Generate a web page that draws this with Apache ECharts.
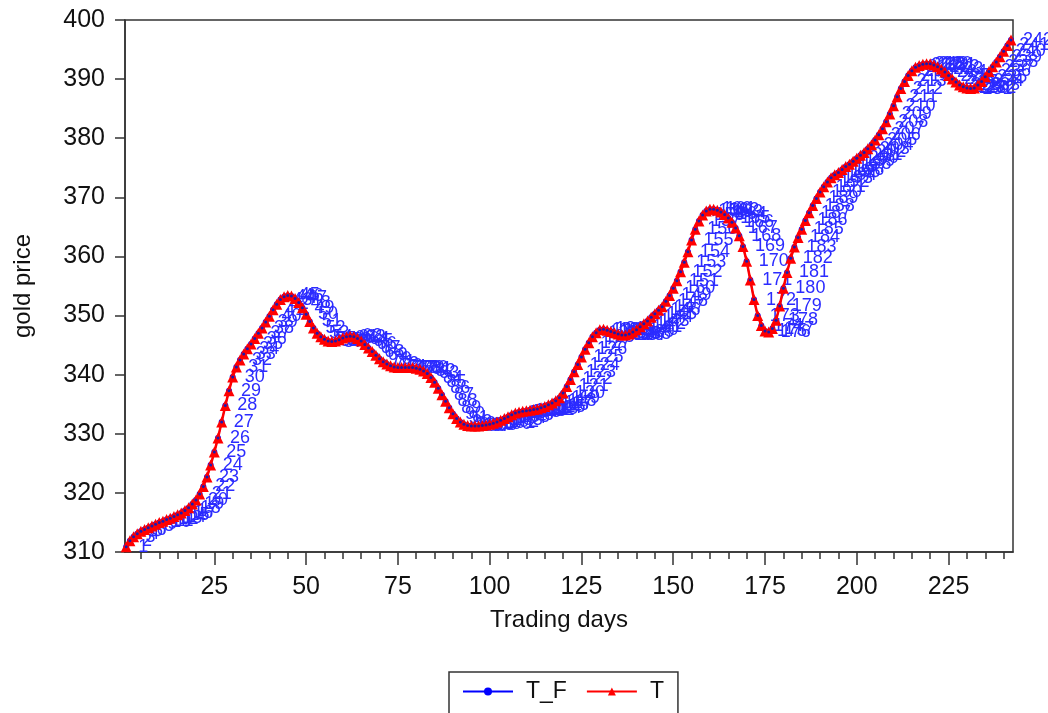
<!DOCTYPE html>
<html><head><meta charset="utf-8">
<script src="https://cdn.jsdelivr.net/npm/echarts@6/dist/echarts.min.js"></script>
<style>html,body{margin:0;padding:0;background:#fff}#c{width:1048px;height:713px}</style>
</head><body><div id="c"></div>
<script>
const seriesT = [310.9,311.9,312.6,313.1,313.5,313.8,314.1,314.4,314.7,315.0,
315.2,315.5,315.7,316.0,316.3,316.6,317.0,317.5,318.1,318.8,
319.8,321.1,322.7,324.7,326.9,329.3,332.0,334.8,337.3,339.6,
341.3,342.5,343.5,344.4,345.2,346.1,347.0,347.9,348.9,349.9,
351.0,351.9,352.7,353.2,353.4,353.3,352.9,352.2,351.3,350.2,
349.0,347.9,347.0,346.4,346.0,345.7,345.6,345.7,345.9,346.2,
346.4,346.5,346.4,346.1,345.7,345.1,344.5,343.9,343.3,342.7,
342.2,341.8,341.5,341.3,341.2,341.2,341.2,341.2,341.2,341.1,
340.9,340.6,340.2,339.5,338.7,337.7,336.6,335.5,334.4,333.4,
332.6,332.0,331.6,331.4,331.3,331.3,331.3,331.4,331.5,331.6,
331.8,332.0,332.3,332.6,332.9,333.2,333.5,333.7,333.8,333.9,
334.0,334.1,334.2,334.4,334.6,334.9,335.2,335.6,336.1,336.9,
338.0,339.2,340.5,341.7,343.0,344.3,345.4,346.4,347.1,347.6,
347.7,347.5,347.3,347.1,346.9,346.7,346.7,346.9,347.2,347.6,
348.1,348.6,349.1,349.7,350.3,350.9,351.5,352.4,353.4,354.6,
355.9,357.4,359.0,360.8,362.8,364.6,366.0,367.0,367.7,368.0,
368.0,367.8,367.5,367.1,366.5,365.8,364.8,363.5,361.7,359.2,
356.0,352.7,350.0,348.3,347.4,347.2,347.8,349.2,351.6,354.6,
357.3,359.7,361.6,363.2,364.6,366.1,367.4,368.6,369.8,370.9,
371.8,372.6,373.3,373.8,374.2,374.7,375.2,375.6,376.1,376.6,
377.1,377.6,378.2,378.9,379.7,380.6,381.6,382.8,384.1,385.5,
387.0,388.4,389.6,390.6,391.4,392.0,392.3,392.5,392.6,392.6,
392.4,392.1,391.7,391.2,390.6,390.0,389.5,389.0,388.7,388.5,
388.4,388.5,389.0,389.6,390.4,391.3,392.1,392.9,393.8,394.7,
395.7,396.6];

const seriesTF = [310.9,311.9,312.6,313.1,313.5,313.8,314.1,314.4,314.7,315.0,
315.2,315.5,315.7,316.0,316.3,316.6,317.0,317.5,318.1,318.8,
319.8,321.1,322.7,324.7,326.9,329.3,332.0,334.8,337.3,339.6,
341.3,342.5,343.5,344.4,345.2,346.1,347.0,347.9,348.9,349.9,
351.0,351.9,352.7,353.2,353.4,353.3,352.9,352.2,351.3,350.2,
349.0,347.9,347.0,346.4,346.0,345.7,345.6,345.7,345.9,346.2,
346.4,346.5,346.4,346.1,345.7,345.1,344.5,343.9,343.3,342.7,
342.2,341.8,341.5,341.3,341.2,341.2,341.2,341.2,341.2,341.1,
340.9,340.6,340.2,339.5,338.7,337.7,336.6,335.5,334.4,333.4,
332.6,332.0,331.6,331.4,331.3,331.3,331.3,331.4,331.5,331.6,
331.8,332.0,332.3,332.6,332.9,333.2,333.5,333.7,333.8,333.9,
334.0,334.1,334.2,334.4,334.6,334.9,335.2,335.6,336.1,336.9,
338.0,339.2,340.5,341.7,343.0,344.3,345.4,346.4,347.1,347.6,
347.7,347.5,347.3,347.1,346.9,346.7,346.7,346.9,347.2,347.6,
348.1,348.6,349.1,349.7,350.3,350.9,351.5,352.4,353.4,354.6,
355.9,357.4,359.0,360.8,362.8,364.6,366.0,367.0,367.7,368.0,
368.0,367.8,367.5,367.1,366.5,365.8,364.8,363.5,361.7,359.2,
356.0,352.7,350.0,348.3,347.4,347.2,347.8,349.2,351.6,354.6,
357.3,359.7,361.6,363.2,364.6,366.1,367.4,368.6,369.8,370.9,
371.8,372.6,373.3,373.8,374.2,374.7,375.2,375.6,376.1,376.6,
377.1,377.6,378.2,378.9,379.7,380.6,381.6,382.8,384.1,385.5,
387.0,388.4,389.6,390.6,391.4,392.0,392.3,392.5,392.6,392.6,
392.4,392.1,391.7,391.2,390.6,390.0,389.5,389.0,388.7,388.5,
388.4,388.5,389.0,389.6,390.4,391.3,392.1,392.9,393.8,394.7,
395.7,396.6];

const xMajorTicks = [25,50,75,100,125,150,175,200,225];
const xMinorTicks = [5,10,15,20,25,30,35,40,45,50,55,60,65,70,75,80,85,90,95,100,105,110,115,120,125,130,135,140,145,150,155,160,165,170,175,180,185,190,195,200,205,210,215,220,225,230,235,240];

const days = seriesT.map((v, i) => i + 1);
const dataT = days.map((d, i) => [d, seriesT[i]]);
const dataTF = days.map((d, i) => [d, seriesTF[i]]);

const FONT = '"Liberation Sans", Arial, sans-serif';
const AX = '#333';
const xRange = {min: 0.67, max: 242.55};

const chart = echarts.init(document.getElementById('c'), null, {renderer: 'canvas'});
chart.setOption({
  animation: false,
  backgroundColor: '#fff',
  textStyle: {fontFamily: FONT},
  grid: {left: 125, right: 35, top: 20, bottom: 161, show: true, borderColor: AX, borderWidth: 1.5, containLabel: false, outerBoundsMode: 'none'},
  legend: {
    data: ['T_F', 'T'],
    left: 449, top: 672,
    padding: [8, 14, 22, 13],
    itemWidth: 50, itemHeight: 10, itemGap: 19,
    borderColor: AX, borderWidth: 1.5, borderRadius: 0,
    textStyle: {fontSize: 23, color: '#111', fontFamily: FONT, padding: [0, 0, 0, 8]}
  },
  xAxis: [{
    type: 'value', min: xRange.min, max: xRange.max,
    name: 'Trading days', nameLocation: 'middle', nameGap: 56,
    nameTextStyle: {fontSize: 24, color: '#111', fontFamily: FONT, padding: [0, 20, 0, 0]},
    axisLine: {show: true, lineStyle: {color: AX, width: 1.5}},
    axisTick: {show: true, length: 13, customValues: xMajorTicks, lineStyle: {color: AX, width: 1.5}},
    axisLabel: {show: true, customValues: xMajorTicks, margin: 23, fontSize: 25, color: '#111', fontFamily: FONT},
    splitLine: {show: false}
  }, {
    type: 'value', min: xRange.min, max: xRange.max, position: 'bottom', gridIndex: 0,
    axisLine: {show: false},
    axisTick: {show: true, length: 7, customValues: xMinorTicks, lineStyle: {color: AX, width: 1.5}},
    axisLabel: {show: false},
    splitLine: {show: false}
  }],
  yAxis: {
    type: 'value', min: 310, max: 400, interval: 10,
    name: 'gold price', nameLocation: 'middle', nameGap: 90,
    nameTextStyle: {fontSize: 24, color: '#111', fontFamily: FONT},
    axisLine: {show: true, lineStyle: {color: AX, width: 1.5}},
    axisTick: {show: true, length: 10, lineStyle: {color: AX, width: 1.5}},
    axisLabel: {margin: 20, fontSize: 25, color: '#111', fontFamily: FONT},
    splitLine: {show: false}
  },
  series: [{
    name: 'T_F', type: 'line', xAxisIndex: 0, z: 2,
    data: dataTF,
    symbol: 'circle', symbolSize: 6,
    itemStyle: {color: '#0000ff'},
    lineStyle: {color: '#0000ff', width: 1.5},
    label: {
      show: true, position: 'right', distance: 9, offset: [0, -3],
      formatter: p => String(p.data[0]),
      fontSize: 18, color: '#2b2bff', fontFamily: FONT
    },
    labelLayout: {hideOverlap: false},
    emphasis: {disabled: true}
  }, {
    name: 'T', type: 'line', xAxisIndex: 0, z: 3,
    data: dataT,
    symbol: 'triangle', symbolSize: 11,
    itemStyle: {color: '#ff0000'},
    lineStyle: {color: '#ff0000', width: 2.5},
    emphasis: {disabled: true}
  }, {
    name: 'T_F points', type: 'line', xAxisIndex: 0, z: 4,
    data: dataTF,
    symbol: 'circle', symbolSize: 3,
    itemStyle: {color: '#1a1ab0'},
    lineStyle: {width: 0, opacity: 0},
    emphasis: {disabled: true}
  }]
});
</script></body></html>
